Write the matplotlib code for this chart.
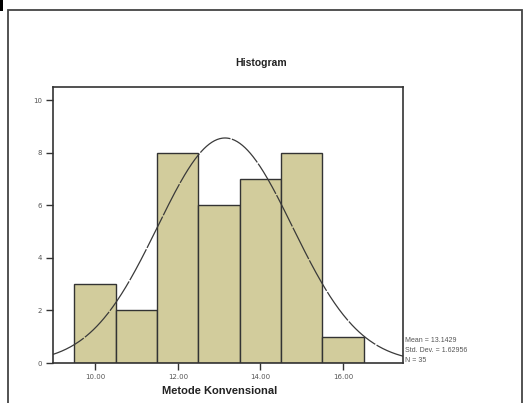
import numpy as np
import matplotlib
matplotlib.use("Agg")
import matplotlib.pyplot as plt
from matplotlib.patches import Rectangle

# Frequency table for the conventional-method scores
bin_left = [9.5, 10.5, 11.5, 12.5, 13.5, 14.5, 15.5]
counts = [3, 2, 8, 6, 7, 8, 1]
bin_width = 1.0
mean = 13.1429
std_dev = 1.62956
n_total = 35
x_ticks = [10, 12, 14, 16]
x_tick_labels = ["10.00", "12.00", "14.00", "16.00"]
y_ticks = [0, 2, 4, 6, 8, 10]

W, H = 531, 403
fig = plt.figure(figsize=(W / 100, H / 100), dpi=100)
fig.patch.set_facecolor("white")

def fx(px):
    return px / W

def fy(py):
    return 1 - py / H

# outer chart frame
fig.add_artist(Rectangle((fx(8), fy(430)), fx(522) - fx(8), fy(10) - fy(430),
                         transform=fig.transFigure, fill=False,
                         edgecolor="#444444", linewidth=1.3))
fig.add_artist(Rectangle((0, fy(11)), fx(2.5), fy(0) - fy(11),
                         transform=fig.transFigure, facecolor="black",
                         edgecolor="none"))

ax = fig.add_axes([fx(53), fy(363), fx(403) - fx(53), fy(87) - fy(363)])
ax.bar(bin_left, counts, width=bin_width, align="edge",
       color="#d2cc9c", edgecolor="#333333", linewidth=1.0)

xmin, xmax = 8.98, 17.45
xs = np.linspace(xmin, xmax, 400)
scale = n_total * bin_width / (std_dev * np.sqrt(2 * np.pi))
ys = scale * np.exp(-0.5 * ((xs - mean) / std_dev) ** 2)
ax.plot(xs, ys, color="#3a3a3a", linewidth=0.9, linestyle=(0, (28, 1.2)))

ax.set_xlim(xmin, xmax)
ax.set_ylim(0, 10.51)
ax.set_xticks(x_ticks)
ax.set_xticklabels(x_tick_labels)
ax.set_yticks(y_ticks)
ax.set_yticklabels([str(v) for v in y_ticks])
ax.tick_params(axis="both", direction="out", length=5, width=1.0,
               color="#333333", labelsize=5, labelcolor="#555555", pad=3)
for s in ax.spines.values():
    s.set_color("#333333")
    s.set_linewidth(1.2)

fig.text(fx(261), fy(63), "Histogram", ha="center", va="center",
         fontsize=7.5, fontweight="bold", family="Liberation Sans", color="#222222")
fig.text(fx(220), fy(391), "Metode Konvensional", ha="center", va="center",
         fontsize=8, fontweight="bold", family="Liberation Sans", color="#222222")

stats = [f"Mean = {mean:.4f}", f"Std. Dev. = {std_dev:.5f}", f"N = {n_total}"]
for i, line in enumerate(stats):
    fig.text(fx(405), fy(341 + 9.5 * i), line, ha="left", va="center",
             fontsize=5, color="#555555", family="Liberation Sans")

fig.savefig("out.png", dpi=100, facecolor="white")
